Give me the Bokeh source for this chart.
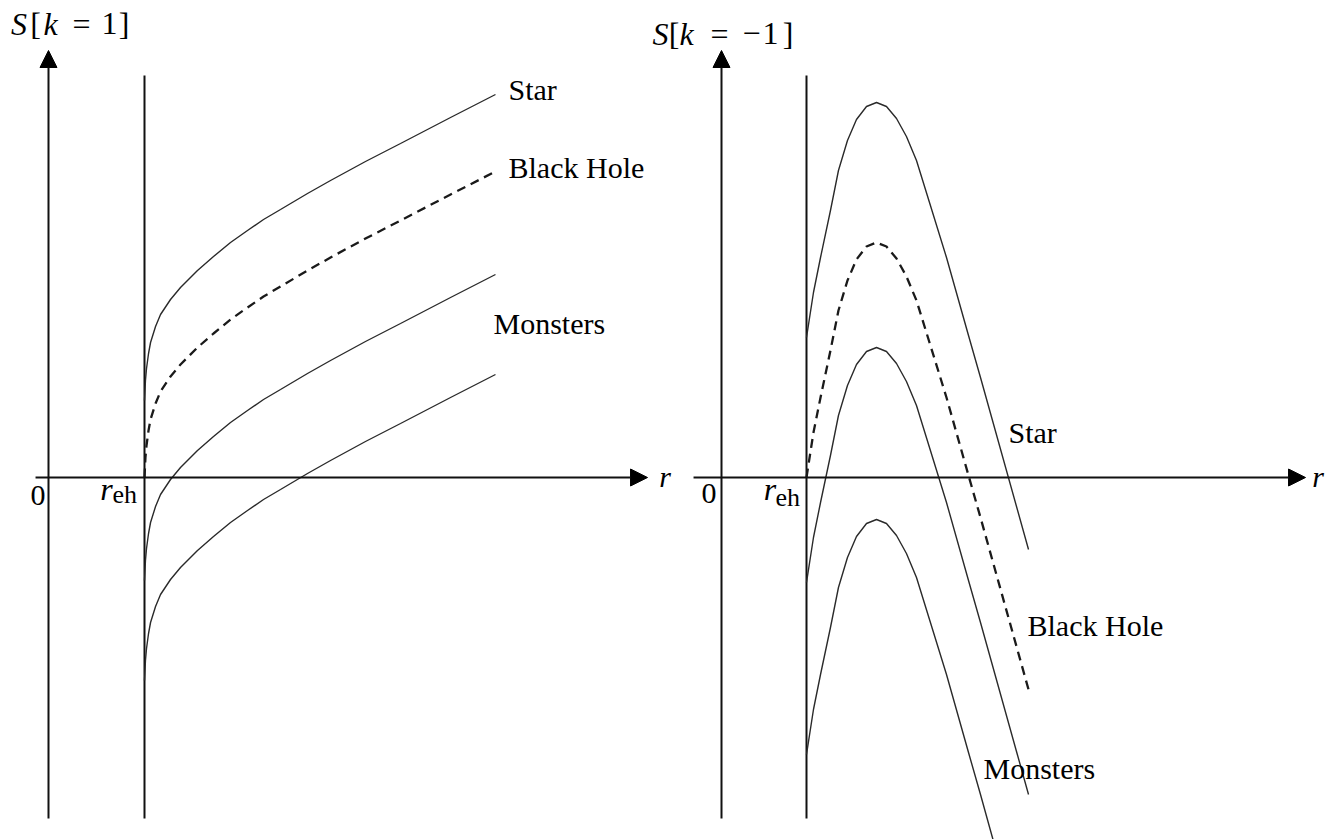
from bokeh.plotting import figure
from bokeh.models import Range1d, Arrow, NormalHead, Label
from bokeh.embed import file_html
from bokeh.resources import INLINE

# ---------------- data (r in units of r_eh, S in arbitrary units) ----------------
R_EH = 1.0

# left panel, S[k = 1] (all four curves read at the same r positions)
left_r = [1.000, 1.010, 1.021, 1.042, 1.063, 1.115, 1.167, 1.271, 1.375, 1.552, 1.719,
          1.896, 2.073, 2.240, 2.417, 2.698, 2.938, 3.302, 3.667, 4.188, 4.656]
left_star_S = [0.77, 0.97, 1.09, 1.24, 1.35, 1.51, 1.63, 1.78, 1.90, 2.07, 2.21,
               2.35, 2.47, 2.58, 2.68, 2.84, 2.97, 3.16, 3.34, 3.60, 3.83]
left_bh_S = [0.00, 0.20, 0.32, 0.47, 0.58, 0.74, 0.86, 1.01, 1.13, 1.30, 1.44,
             1.58, 1.70, 1.81, 1.91, 2.07, 2.20, 2.39, 2.57, 2.83, 3.06]
left_m1_S = [-1.03, -0.83, -0.71, -0.56, -0.45, -0.29, -0.17, -0.02, 0.10, 0.27, 0.41,
             0.55, 0.67, 0.78, 0.88, 1.04, 1.17, 1.36, 1.54, 1.80, 2.03]
left_m2_S = [-2.03, -1.83, -1.71, -1.56, -1.45, -1.29, -1.17, -1.02, -0.90, -0.73, -0.59,
             -0.45, -0.33, -0.22, -0.12, 0.04, 0.17, 0.36, 0.54, 0.80, 1.03]

# right panel, S[k = -1]
right_r = [1.000, 1.082, 1.165, 1.282, 1.376, 1.482, 1.588, 1.706, 1.824, 1.941, 2.059,
           2.176, 2.294, 2.447, 2.647, 2.906, 3.047, 3.612]
right_star_S = [1.40, 1.85, 2.20, 2.67, 3.07, 3.37, 3.58, 3.71, 3.75, 3.71, 3.59,
                3.41, 3.17, 2.75, 2.20, 1.42, 1.00, -0.72]
right_bh_S = [0.00, 0.45, 0.80, 1.27, 1.67, 1.97, 2.18, 2.31, 2.35, 2.31, 2.19,
              2.01, 1.77, 1.35, 0.80, 0.02, -0.40, -2.12]
right_m1_S = [-1.05, -0.60, -0.25, 0.22, 0.62, 0.92, 1.13, 1.26, 1.30, 1.26, 1.14,
              0.96, 0.72, 0.30, -0.25, -1.03, -1.45, -3.17]
right_m2_r = [1.000, 1.082, 1.165, 1.282, 1.376, 1.482, 1.588, 1.706, 1.824, 1.941, 2.059,
              2.176, 2.294, 2.447, 2.647, 2.906, 3.047, 3.282]
right_m2_S = [-2.77, -2.32, -1.97, -1.50, -1.10, -0.80, -0.59, -0.46, -0.42, -0.46, -0.58,
              -0.76, -1.00, -1.42, -1.97, -2.75, -3.17, -3.89]

# axis extents
left_r_axis = [-0.135, 6.24]
right_r_axis = [-0.329, 6.871]
S_axis = [-3.41, 4.27]
reh_line_S = [-3.41, 4.02]

# curve labels
curve_names = ["Star", "Black Hole", "Monsters"]
left_label_r = [4.792, 4.792, 4.635]
left_label_S = [3.88, 3.10, 1.54]
right_label_r = [3.376, 3.600, 3.082]
right_label_S = [0.45, -1.48, -2.91]

# ---------------- figure ----------------
W, H = 1334, 839
p = figure(width=W, height=H, output_backend="svg", toolbar_location=None,
           x_axis_type=None, y_axis_type=None,
           x_range=Range1d(-0.5, 13.396), y_range=Range1d(-3.62, 4.77),
           min_border=0, outline_line_color=None, background_fill_color="white")
p.extra_x_ranges = {"right": Range1d(-8.4824, 7.2118)}

SERIF = "Liberation Serif"
AX = "#111111"
CUR = "#2a2a2a"


def panel(rng, r_axis, curves, label_r, label_S):
    kw = {} if rng is None else {"x_range_name": rng}
    p.add_layout(Arrow(x_start=r_axis[0], y_start=0, x_end=r_axis[1], y_end=0,
                       line_width=2, line_color=AX,
                       end=NormalHead(size=17, fill_color="black", line_color="black", line_width=1), **kw))
    p.add_layout(Arrow(x_start=0, y_start=S_axis[0], x_end=0, y_end=S_axis[1],
                       line_width=2, line_color=AX,
                       end=NormalHead(size=17, fill_color="black", line_color="black", line_width=1), **kw))
    p.line([R_EH, R_EH], reh_line_S, line_width=2, line_color=AX, **kw)
    for (rs, ss, dashed) in curves:
        if dashed:
            p.line(rs, ss, line_width=2.3, line_color="#1a1a1a", line_dash="9 6", **kw)
        else:
            p.line(rs, ss, line_width=1.4, line_color=CUR, **kw)
    for name, lr, ls in zip(curve_names, label_r, label_S):
        p.add_layout(Label(x=lr, y=ls, text=name, text_font=SERIF, text_font_size="30px",
                           text_color="black", text_baseline="alphabetic", text_align="left", **kw))


panel(None, left_r_axis,
      [(left_r, left_star_S, False), (left_r, left_bh_S, True),
       (left_r, left_m1_S, False), (left_r, left_m2_S, False)],
      left_label_r, left_label_S)
panel("right", right_r_axis,
      [(right_r, right_star_S, False), (right_r, right_bh_S, True),
       (right_r, right_m1_S, False), (right_m2_r, right_m2_S, False)],
      right_label_r, right_label_S)


def lab(text, x, y, rng, size="30px", style="normal", align="center", xoff=0):
    kw = {} if rng is None else {"x_range_name": rng}
    p.add_layout(Label(x=x, y=y, x_offset=xoff, text=text, text_font=SERIF, text_font_size=size,
                       text_font_style=style, text_color="black", text_baseline="alphabetic",
                       text_align=align, **kw))


# axis titles S[k = 1] and S[k = -1], built glyph by glyph (italic variables)
left_title = [("S", -29.5, "italic"), ("[", -13, "normal"), ("k", 2, "italic"),
              ("=", 33, "normal"), ("1", 61, "normal"), ("]", 75.5, "normal")]
right_title = [("S", -61, "italic"), ("[", -47.5, "normal"), ("k", -35, "italic"),
               ("=", -2, "normal"), ("\u2212", 30, "normal"), ("1", 49, "normal"), ("]", 66.5, "normal")]
for t, off, st in left_title:
    lab(t, 0, 4.54, None, size="32px", style=st, xoff=off)
for t, off, st in right_title:
    lab(t, 0, 4.44, "right", size="32px", style=st, xoff=off)

# origin, r_eh and r labels
lab("0", -0.109, -0.18, None)
lab("0", -0.147, -0.16, "right")
lab("r", 0.604, -0.11, None, size="32px", style="italic")
lab("eh", 0.667, -0.17, None, size="26px", align="left")
lab("r", 0.571, -0.11, "right", size="32px", style="italic")
lab("eh", 0.635, -0.20, "right", size="26px", align="left")
lab("r", 6.422, 0.01, None, size="30px", style="italic")
lab("r", 7.018, 0.01, "right", size="30px", style="italic")

open("out.html", "w").write(file_html(p, INLINE))
